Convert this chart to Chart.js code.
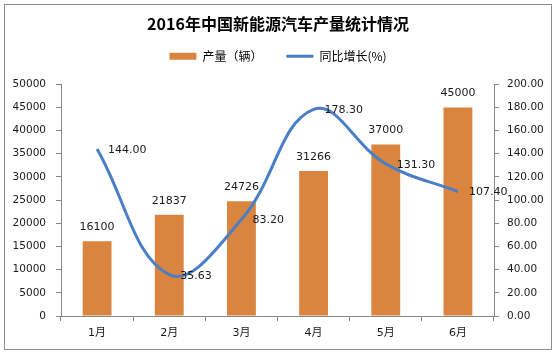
<!DOCTYPE html>
<html>
<head>
<meta charset="utf-8">
<script src="https://cdn.jsdelivr.net/npm/chart.js@4/dist/chart.umd.min.js"></script>
<style>
html,body{margin:0;padding:0;background:#fff;}
#wrap{width:556px;height:355px;position:relative;}
</style>
</head>
<body>
<div id="wrap"><canvas id="c" width="556" height="355"></canvas></div>
<script>
const titleText = '2016年中国新能源汽车产量统计情况';
const categories = ['1月','2月','3月','4月','5月','6月'];
const outputLabel = '产量（辆）';
const growthLabel = '同比增长(%)';
const outputValues = [16100, 21837, 24726, 31266, 37000, 45000];
const growthValues = [144.00, 35.63, 83.20, 178.30, 131.30, 107.40];
const leftTickLabels = ['0','5000','10000','15000','20000','25000','30000','35000','40000','45000','50000'];
const rightTickLabels = ['0.00','20.00','40.00','60.00','80.00','100.00','120.00','140.00','160.00','180.00','200.00'];

const NUM_FONT = 'DejaVu Sans, Verdana, sans-serif';
const CJK_FONT = '"Noto Sans CJK SC", "Noto Sans", sans-serif';

const frame = {
  id: 'frame',
  beforeDraw(chart) {
    const ctx = chart.ctx;
    ctx.save();
    ctx.fillStyle = '#fff';
    ctx.fillRect(0, 0, chart.width, chart.height);
    ctx.strokeStyle = '#8c8c8c';
    ctx.lineWidth = 1;
    ctx.strokeRect(4.5, 4.5, 547, 345);
    ctx.restore();
  }
};

// adds extra room below the legend so the plot area starts lower
const legendGap = {
  id: 'legendGap',
  beforeLayout(chart) {
    const lg = chart.legend;
    if (lg && !lg._gapPatched) {
      const orig = lg.fit.bind(lg);
      lg.fit = function () { orig(); this.height += 12; };
      lg._gapPatched = true;
    }
  }
};

const valueLabels = {
  id: 'valueLabels',
  afterDatasetsDraw(chart) {
    const ctx = chart.ctx;
    ctx.save();
    ctx.font = '11px ' + NUM_FONT;
    ctx.fillStyle = '#1a1a1a';
    const barMeta = chart.getDatasetMeta(0);
    ctx.textAlign = 'center';
    ctx.textBaseline = 'middle';
    barMeta.data.forEach((el, i) => {
      ctx.fillText(String(outputValues[i]), el.x, el.y - 14);
    });
    const lineMeta = chart.getDatasetMeta(1);
    ctx.textAlign = 'left';
    lineMeta.data.forEach((el, i) => {
      ctx.fillText(growthValues[i].toFixed(2), el.x + 11, el.y + 1);
    });
    ctx.restore();
  }
};

new Chart(document.getElementById('c'), {
  type: 'bar',
  data: {
    labels: categories,
    datasets: [
      {
        type: 'bar',
        label: outputLabel,
        data: outputValues,
        backgroundColor: '#D9843F',
        borderWidth: 0,
        yAxisID: 'y',
        order: 2,
        pointStyle: 'rect',
        categoryPercentage: 1,
        barPercentage: 0.4
      },
      {
        type: 'line',
        label: growthLabel,
        data: growthValues,
        borderColor: '#4A7EC6',
        backgroundColor: '#4A7EC6',
        borderWidth: 3,
        pointRadius: 0,
        pointStyle: 'line',
        tension: 0.4,
        fill: false,
        clip: false,
        yAxisID: 'y1',
        order: 1
      }
    ]
  },
  options: {
    responsive: false,
    animation: false,
    devicePixelRatio: 1,
    layout: { padding: { left: 0, right: 0, top: 0, bottom: 0 } },
    plugins: {
      tooltip: { enabled: false },
      title: {
        display: true,
        text: titleText,
        color: '#000',
        font: { family: CJK_FONT, size: 16, weight: 'bold' },
        padding: { top: 14, bottom: -7 }
      },
      legend: {
        display: true,
        position: 'top',
        labels: {
          usePointStyle: true,
          pointStyleWidth: 27,
          boxHeight: 7,
          padding: 24,
          color: '#000',
          font: { family: CJK_FONT, size: 12 },
          sort: (a, b) => a.datasetIndex - b.datasetIndex
        }
      }
    },
    scales: {
      x: {
        grid: { display: true, drawOnChartArea: false, drawTicks: true, tickLength: 5, color: '#868686', offset: true },
        border: { display: true, color: '#868686' },
        ticks: { color: '#1a1a1a', font: { family: NUM_FONT + ', ' + CJK_FONT, size: 11 }, padding: 6 },
        afterFit(scale) { scale.height = 39; }
      },
      y: {
        position: 'left',
        min: 0, max: 50000,
        grid: { display: true, drawOnChartArea: false, drawTicks: true, tickLength: 5, color: '#868686' },
        border: { display: true, color: '#868686' },
        ticks: {
          stepSize: 5000,
          color: '#1a1a1a',
          font: { family: NUM_FONT, size: 10.5 },
          padding: 10,
          callback: (v, i) => leftTickLabels[i]
        },
        afterFit(scale) { scale.width = 61; }
      },
      y1: {
        position: 'right',
        min: 0, max: 200,
        grid: { display: true, drawOnChartArea: false, drawTicks: true, tickLength: 5, color: '#868686' },
        border: { display: true, color: '#868686' },
        ticks: {
          stepSize: 20,
          color: '#1a1a1a',
          font: { family: NUM_FONT, size: 10.5 },
          padding: 8,
          callback: (v, i) => rightTickLabels[i]
        },
        afterFit(scale) { scale.width = 62; }
      }
    }
  },
  plugins: [frame, legendGap, valueLabels]
});
</script>
</body>
</html>
